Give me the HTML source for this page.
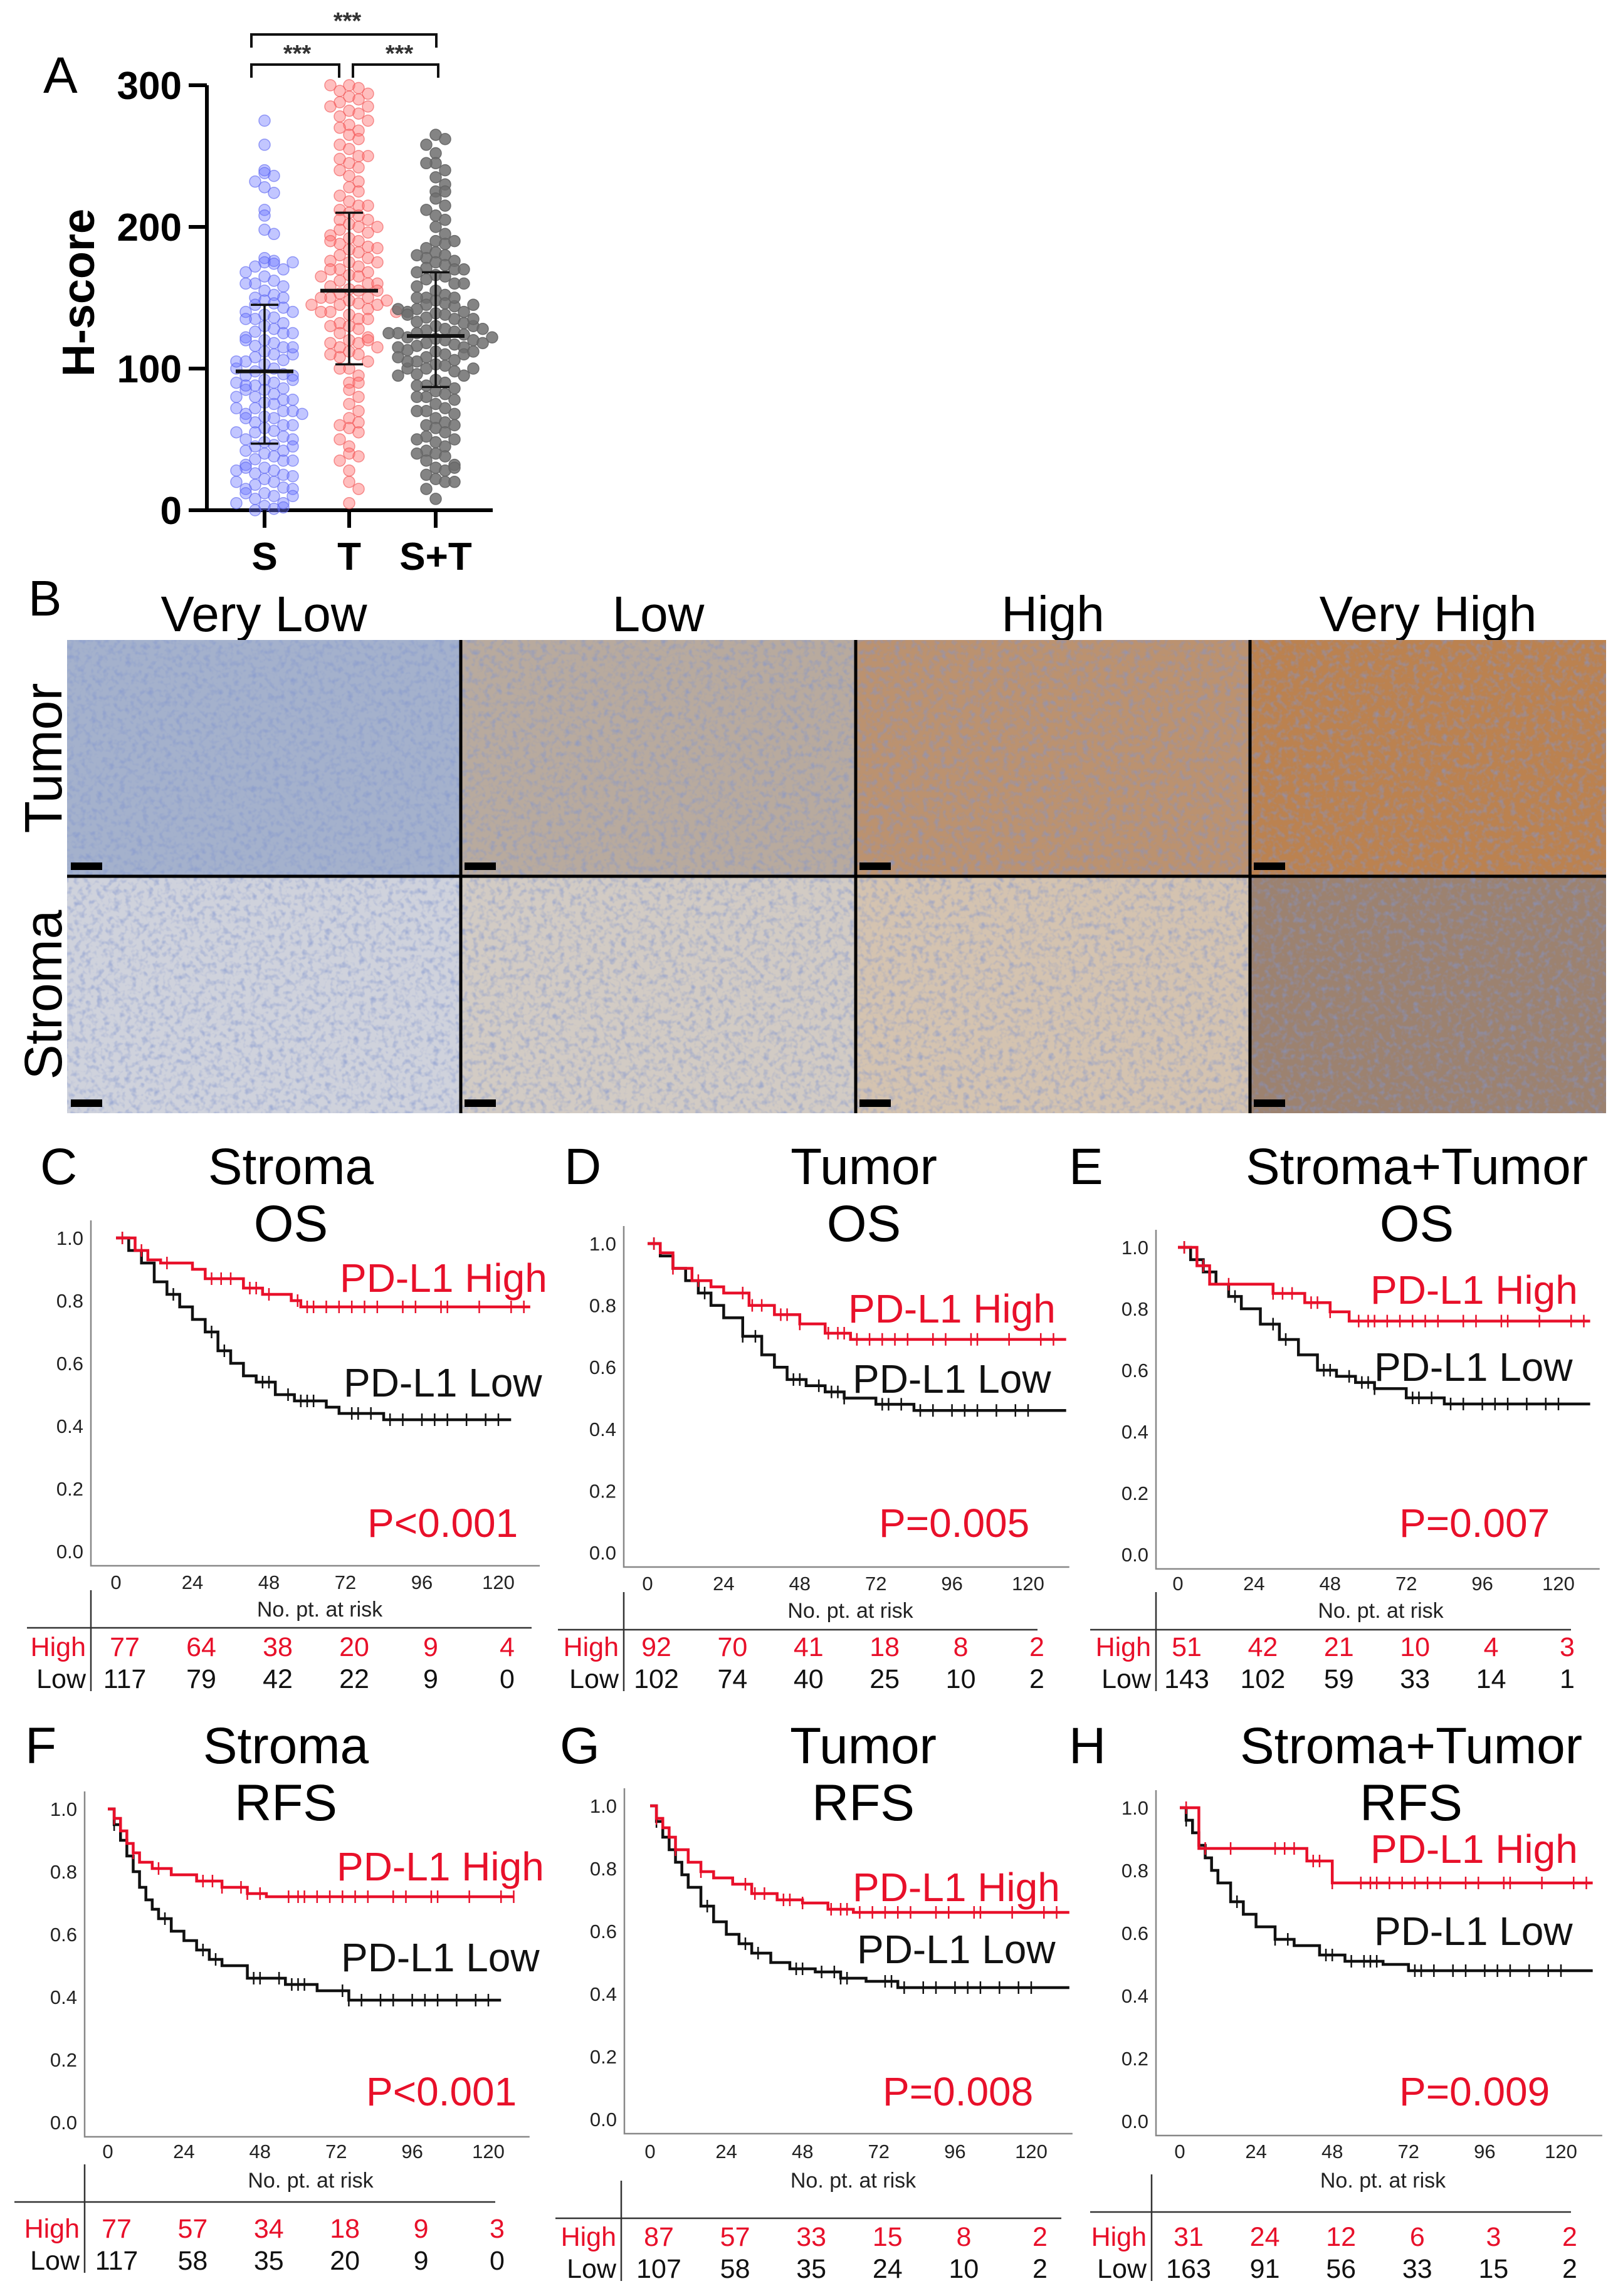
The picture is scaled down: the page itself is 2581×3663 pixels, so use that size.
<!DOCTYPE html>
<html><head><meta charset="utf-8"><style>
html,body{margin:0;padding:0;background:#fff;}
svg{display:block;font-family:"Liberation Sans",Arial,sans-serif;}
</style></head><body>
<svg id="fig" xmlns="http://www.w3.org/2000/svg" width="2581" height="3663" viewBox="0 0 2581 3663">
<defs>
<filter id="tex" x="0" y="0" width="100%" height="100%">
<feTurbulence type="fractalNoise" baseFrequency="0.11" numOctaves="2" seed="3"/>
<feColorMatrix type="matrix" values="0 0 0 0 0.22  0 0 0 0 0.30  0 0 0 0 0.62  0 0 0 -2.4 1.3"/>
</filter>
</defs>
<g id="panelA"></g>
<g id="panelB"></g>
<g id="km"></g>
</svg>
<script>
// ---------- Panel A data ----------
const groupLabels = ["S","T","S+T"];
const sValues = [275,258,240,238,236,232,228,224,212,208,198,195,178,176,175,174,172,170,168,165,162,160,158,155,152,150,148,146,145,143,140,138,136,135,132,130,128,126,125,122,120,118,116,115,112,110,108,106,105,103,100,98,96,95,92,90,88,86,85,82,80,78,76,75,72,70,68,66,65,62,60,58,56,55,52,50,48,46,45,42,40,38,36,35,32,30,28,26,25,22,20,18,16,15,12,10,8,5,3,1,0,110,95,85,70,50,30,15,65,125,140,100,88,78,60,42,24,12,175,160,150,135,120,115,105,92,90,80,72,68,55,45,35,28,20,10,5,2];
const tValues = [300,298,296,294,292,290,288,285,282,280,278,275,272,268,265,262,258,255,250,248,245,242,240,236,232,228,225,222,218,215,212,210,208,205,202,200,198,196,194,192,190,188,186,184,182,180,178,176,175,172,170,168,166,165,162,160,158,156,155,153,150,148,146,145,142,140,138,135,132,130,128,125,122,120,118,115,112,110,108,105,100,95,90,85,80,75,70,65,62,58,55,50,45,40,38,35,28,20,15,5,160,150,145,170,140,190,205,120,110,300,285,270,250,215,200,185,175,165,155,150,148,145,140,135,130,118,115,100,90,60];
const stValues = [265,262,258,252,245,240,235,230,225,220,215,212,208,205,200,195,190,188,185,182,180,178,176,175,173,171,170,168,166,165,163,160,158,155,152,150,148,146,145,144,142,140,139,138,136,135,133,132,130,128,127,126,125,124,122,121,120,118,117,116,115,113,112,110,108,106,105,103,102,100,98,96,95,92,90,88,86,84,82,80,78,75,72,70,68,65,62,60,58,55,52,50,48,45,42,40,38,35,32,30,28,25,22,20,15,8,140,130,120,110,100,150,125,115,105,245,225,190,180,170,160,150,145,142,138,135,128,125,122,118,112,108,100,95,88,80,70,60,50,40,30,20];
const groupMeans = [98,155,123];
const groupLowSD = [47,103,87];
const groupHighSD = [145,210,168];
const hTicks = [0,100,200,300];

// ---------- KM data ----------
const riskTimes = [0,24,48,72,96,120];
const kmC_highT=[0,6,10,14,24,28,40,46,55,58,130], kmC_highS=[1,0.96,0.93,0.92,0.90,0.87,0.84,0.82,0.80,0.78,0.78];
const kmC_lowT=[0,4,8,12,16,20,24,28,32,36,40,44,50,56,66,70,84,124], kmC_lowS=[1,0.96,0.92,0.86,0.82,0.78,0.74,0.70,0.64,0.60,0.56,0.54,0.50,0.48,0.46,0.44,0.42,0.42];
const kmD_highT=[0,4,8,14,20,24,32,40,48,56,64,132], kmD_highS=[1,0.97,0.92,0.88,0.86,0.84,0.80,0.77,0.74,0.71,0.69,0.69];
const kmD_lowT=[0,4,8,12,16,20,24,30,36,40,44,50,56,62,72,84,132], kmD_lowS=[1,0.96,0.92,0.88,0.84,0.80,0.76,0.70,0.64,0.60,0.56,0.54,0.52,0.50,0.48,0.46,0.46];
const kmE_highT=[0,6,10,30,40,48,54,130], kmE_highS=[1,0.94,0.88,0.85,0.82,0.79,0.76,0.76];
const kmE_lowT=[0,4,8,12,16,20,26,32,38,44,50,56,62,72,84,130], kmE_lowS=[1,0.96,0.92,0.88,0.84,0.80,0.75,0.70,0.65,0.60,0.58,0.56,0.54,0.51,0.49,0.49];
const kmF_highT=[0,2,4,6,8,10,14,20,28,36,44,50,128], kmF_highS=[1,0.97,0.93,0.89,0.86,0.83,0.81,0.79,0.77,0.75,0.73,0.72,0.72];
const kmF_lowT=[0,2,4,6,8,10,12,14,16,20,24,28,32,36,44,56,66,76,124], kmF_lowS=[1,0.95,0.90,0.85,0.80,0.75,0.71,0.68,0.65,0.61,0.58,0.55,0.52,0.50,0.46,0.44,0.42,0.39,0.39];
const kmG_highT=[0,2,4,6,8,12,16,20,26,32,40,48,56,64,132], kmG_highS=[1,0.96,0.93,0.90,0.86,0.82,0.79,0.77,0.75,0.72,0.70,0.69,0.67,0.66,0.66];
const kmG_lowT=[0,2,4,6,8,10,12,16,20,24,28,32,38,44,52,60,68,78,132], kmG_lowS=[1,0.95,0.90,0.86,0.82,0.78,0.74,0.68,0.63,0.59,0.56,0.53,0.50,0.48,0.47,0.45,0.44,0.42,0.42];
const kmH_highT=[0,6,40,48,130], kmH_highS=[1,0.87,0.83,0.76,0.76];
const kmH_lowT=[0,2,4,6,8,10,12,16,20,24,30,36,44,52,64,72,130], kmH_lowS=[1,0.96,0.92,0.88,0.84,0.80,0.76,0.70,0.66,0.62,0.58,0.56,0.53,0.51,0.50,0.48,0.48];
const censorHigh=[2,8,16,30,33,36,42,44,48,57,60,62,66,70,74,78,82,90,94,102,104,114,124,128];
const censorLow=[2,18,30,34,46,48,54,58,60,62,74,76,80,86,90,96,100,104,110,116,120];
const riskC_high=[77,64,38,20,9,4], riskC_low=[117,79,42,22,9,0];
const riskD_high=[92,70,41,18,8,2], riskD_low=[102,74,40,25,10,2];
const riskE_high=[51,42,21,10,4,3], riskE_low=[143,102,59,33,14,1];
const riskF_high=[77,57,34,18,9,3], riskF_low=[117,58,35,20,9,0];
const riskG_high=[87,57,33,15,8,2], riskG_low=[107,58,35,24,10,2];
const riskH_high=[31,24,12,6,3,2], riskH_low=[163,91,56,33,15,2];
const survTicks=[0,0.2,0.4,0.6,0.8,1.0];

const NS="http://www.w3.org/2000/svg";
function mk(parent,tag,attrs,text){const e=document.createElementNS(NS,tag);for(const k in attrs)e.setAttribute(k,attrs[k]);if(text!==undefined)e.textContent=text;parent.appendChild(e);return e;}
const RED="#e8102a";

// ---------- Panel A ----------
(function(){
const g=document.getElementById('panelA');
const yA=v=>814-(v/300)*(814-136);
const xA=[422,557,695];
let t=mk(g,'text',{x:69,y:148,'font-size':82},'A');

t=mk(g,'text',{x:0,y:0,'font-size':72,'font-weight':'bold','text-anchor':'middle',transform:'translate(150,467) rotate(-90)'},'H-score');

const ax=mk(g,'path',{d:`M330 ${yA(300)} V814 H786`,stroke:'#000','stroke-width':6,fill:'none'});

hTicks.forEach(v=>{
 const tk=mk(g,'line',{x1:301,x2:330,y1:yA(v),y2:yA(v),stroke:'#000','stroke-width':6});
 
 const tl=mk(g,'text',{x:290,y:yA(v)+22,'font-size':62,'font-weight':'bold','text-anchor':'end'},String(v));
 
});
const groups=[sValues,tValues,stValues];
const fills=['rgba(110,120,255,0.42)','rgba(255,110,110,0.45)','rgba(110,110,110,0.85)'];
const strokes=['rgba(90,100,240,0.6)','rgba(240,80,80,0.6)','rgba(100,100,100,0.9)'];
groups.forEach((vals,gi)=>{
 const bins={};
 vals.forEach(v=>{
  const b=Math.round(v/9);
  bins[b]=(bins[b]||0)+1;
  const k=bins[b]-1;
  const off=(k===0?0:(k%2?1:-1)*Math.ceil(k/2))*15;
  const c=mk(g,'circle',{cx:xA[gi]+off,cy:yA(v),r:9,fill:fills[gi],stroke:strokes[gi],'stroke-width':1.5});
  
  
 });
 const mw=46;
 const m=mk(g,'line',{x1:xA[gi]-mw,x2:xA[gi]+mw,y1:yA(groupMeans[gi]),y2:yA(groupMeans[gi]),stroke:'#111','stroke-width':6});
 
 const e=mk(g,'path',{d:`M${xA[gi]} ${yA(groupLowSD[gi])} V${yA(groupHighSD[gi])} M${xA[gi]-22} ${yA(groupLowSD[gi])} h44 M${xA[gi]-22} ${yA(groupHighSD[gi])} h44`,stroke:'#111','stroke-width':3.5,fill:'none'});
 
 const tk=mk(g,'line',{x1:xA[gi],x2:xA[gi],y1:814,y2:842,stroke:'#000','stroke-width':6});
 
 const xl=mk(g,'text',{x:xA[gi],y:909,'font-size':62,'font-weight':'bold','text-anchor':'middle'},groupLabels[gi]);
 
});
const br=mk(g,'path',{d:'M401 76 V55 H696 V76 M401 124 V103 H541 V124 M563 124 V103 H699 V124',stroke:'#111','stroke-width':4,fill:'none'});

[[554,46],[474,98],[637,98]].forEach(p=>{
 const s=mk(g,'text',{x:p[0],y:p[1],'font-size':38,'font-weight':'bold','text-anchor':'middle',fill:'#333'},'***');
 
});
})();

// ---------- Panel B ----------
(function(){
const g=document.getElementById('panelB');
let t=mk(g,'text',{x:45,y:982,'font-size':80},'B');

const cols=[107,735,1365,1994,2562];
const rows=[1021,1398,1776];
const titles=['Very Low','Low','High','Very High'];
const colors=[['#a4b1cc','#b8aa9e','#bb9270','#bb8250'],['#cfd2dc','#d2cbc4','#d4c3b0','#9c8270']];
titles.forEach((tt,i)=>{
 const tx=mk(g,'text',{x:(cols[i]+cols[i+1])/2,y:1007,'font-size':80,'text-anchor':'middle'},tt);
 
});
['Tumor','Stroma'].forEach((rl,r)=>{
 const tx=mk(g,'text',{x:0,y:0,'font-size':84,'text-anchor':'middle',transform:`translate(98,${(rows[r]+rows[r+1])/2}) rotate(-90)`},rl);
 
 for(let c=0;c<4;c++){
  const im=mk(g,'rect',{x:cols[c],y:rows[r],width:cols[c+1]-cols[c],height:rows[r+1]-rows[r],fill:colors[r][c]});
  
  const tx2=mk(g,'rect',{x:cols[c],y:rows[r],width:cols[c+1]-cols[c],height:rows[r+1]-rows[r],filter:'url(#tex)',opacity:0.6});
  
  const sb=mk(g,'rect',{x:cols[c]+6,y:rows[r+1]-22,width:50,height:12,fill:'#000'});
  
 }
});
const dv=mk(g,'path',{d:`M${cols[1]} ${rows[0]} V${rows[2]} M${cols[2]} ${rows[0]} V${rows[2]} M${cols[3]} ${rows[0]} V${rows[2]} M${cols[0]} ${rows[1]} H${cols[4]}`,stroke:'#000','stroke-width':5});

})();

// ---------- KM panels ----------
const panels=[
 {id:'C',t1:'Stroma',t2:'OS',tx:464,lx:64,tb:1889,ax:145,x0:185,x120:795,y1:1975,y0:2475,tick:2535,risk:2579,hl:2597,hx0:43,hx1:848,vl:145,high:2627,low:2678,hiX:542,hiY:2061,loX:548,loY:2228,pX:586,pY:2452,p:'P<0.001',hT:kmC_highT,hS:kmC_highS,lT:kmC_lowT,lS:kmC_lowS,rh:riskC_high,rl:riskC_low},
 {id:'D',t1:'Tumor',t2:'OS',tx:1378,lx:900,tb:1889,ax:995,x0:1033,x120:1640,y1:1984,y0:2477,tick:2537,risk:2581,hl:2600,hx0:890,hx1:1655,vl:995,high:2627,low:2678,hiX:1353,hiY:2110,loX:1360,loY:2222,pX:1402,pY:2452,p:'P=0.005',hT:kmD_highT,hS:kmD_highS,lT:kmD_lowT,lS:kmD_lowS,rh:riskD_high,rl:riskD_low},
 {id:'E',t1:'Stroma+Tumor',t2:'OS',tx:2260,lx:1705,tb:1889,ax:1844,x0:1879,x120:2486,y1:1990,y0:2480,tick:2537,risk:2581,hl:2600,hx0:1739,hx1:2506,vl:1844,high:2627,low:2678,hiX:2186,hiY:2080,loX:2192,loY:2203,pX:2232,pY:2452,p:'P=0.007',hT:kmE_highT,hS:kmE_highS,lT:kmE_lowT,lS:kmE_lowS,rh:riskE_high,rl:riskE_low},
 {id:'F',t1:'Stroma',t2:'RFS',tx:456,lx:40,tb:2813,ax:135,x0:172,x120:779,y1:2886,y0:3386,tick:3443,risk:3490,hl:3513,hx0:23,hx1:790,vl:135,high:3555,low:3606,hiX:537,hiY:3000,loX:544,loY:3145,pX:584,pY:3359,p:'P<0.001',hT:kmF_highT,hS:kmF_highS,lT:kmF_lowT,lS:kmF_lowS,rh:riskF_high,rl:riskF_low},
 {id:'G',t1:'Tumor',t2:'RFS',tx:1377,lx:893,tb:2813,ax:996,x0:1037,x120:1645,y1:2881,y0:3381,tick:3443,risk:3490,hl:3539,hx0:886,hx1:1693,vl:991,high:3568,low:3619,hiX:1360,hiY:3033,loX:1367,loY:3132,pX:1408,pY:3359,p:'P=0.008',hT:kmG_highT,hS:kmG_highS,lT:kmG_lowT,lS:kmG_lowS,rh:riskG_high,rl:riskG_low},
 {id:'H',t1:'Stroma+Tumor',t2:'RFS',tx:2251,lx:1705,tb:2813,ax:1844,x0:1882,x120:2490,y1:2884,y0:3384,tick:3443,risk:3490,hl:3529,hx0:1739,hx1:2506,vl:1837,high:3568,low:3619,hiX:2186,hiY:2972,loX:2192,loY:3103,pX:2232,pY:3359,p:'P=0.009',hT:kmH_highT,hS:kmH_highS,lT:kmH_lowT,lS:kmH_lowS,rh:riskH_high,rl:riskH_low}
];
const kmRoot=document.getElementById('km');
panels.forEach(P=>{
 const g=mk(kmRoot,'g',{});
 
 
 const X=t=>P.x0+t/120*(P.x120-P.x0);
 const Y=s=>P.y0-s*(P.y0-P.y1);
 let e=mk(g,'text',{x:P.lx,y:P.tb,'font-size':82},P.id);
 
 e=mk(g,'text',{x:P.tx,y:P.tb,'font-size':82,'text-anchor':'middle'},P.t1);
 
 e=mk(g,'text',{x:P.tx,y:P.tb+91,'font-size':82,'text-anchor':'middle'},P.t2);
 
 e=mk(g,'path',{d:`M${P.ax} ${P.y1-28} V${P.y0+23} H${X(133)}`,stroke:'#888','stroke-width':2.5,fill:'none'});
 
 survTicks.forEach(s=>{
  const l=mk(g,'text',{x:P.ax-12,y:Y(s)+11,'font-size':31,'text-anchor':'end',fill:'#222'},s.toFixed(1));
  
 });
 riskTimes.forEach(t=>{
  const l=mk(g,'text',{x:X(t),y:P.tick,'font-size':31,'text-anchor':'middle',fill:'#222'},String(t));
  
 });
 e=mk(g,'text',{x:(P.x0+P.x120)/2+20,y:P.risk,'font-size':34,'text-anchor':'middle',fill:'#222'},'No. pt. at risk');
 
 e=mk(g,'path',{d:`M${P.hx0} ${P.hl} H${P.hx1} M${P.vl} ${P.hl-60} V${P.low+20}`,stroke:'#333','stroke-width':2.5,fill:'none'});
 
 e=mk(g,'text',{x:P.vl-8,y:P.high+15,'font-size':43,'text-anchor':'end',fill:RED},'High');
 
 e=mk(g,'text',{x:P.vl-8,y:P.low+15,'font-size':43,'text-anchor':'end',fill:'#111'},'Low');
 
 riskTimes.forEach((t,i)=>{
  let n=mk(g,'text',{x:X(t)+14,y:P.high+15,'font-size':43,'text-anchor':'middle',fill:RED},String(P.rh[i]));
  
  n=mk(g,'text',{x:X(t)+14,y:P.low+15,'font-size':43,'text-anchor':'middle',fill:'#111'},String(P.rl[i]));
  
 });
 function curve(T,S,cens,color,name){
  let d=`M${X(T[0])} ${Y(S[0])}`;
  for(let i=1;i<T.length;i++){d+=` H${X(T[i])} V${Y(S[i])}`;}
  const p=mk(g,'path',{d:d,stroke:color,'stroke-width':4.5,fill:'none'});
  
  
  const end=T[T.length-1];
  cens.filter(c=>c<=end).forEach(c=>{
   let s=S[0];for(let i=0;i<T.length;i++){if(T[i]<=c)s=S[i];}
   const m=mk(g,'line',{x1:X(c),x2:X(c),y1:Y(s)-10,y2:Y(s)+10,stroke:color,'stroke-width':2.5});
   
   
  });
 }
 curve(P.lT,P.lS,censorLow,'#111','km-curve-low');
 curve(P.hT,P.hS,censorHigh,RED,'km-curve-high');
 e=mk(g,'text',{x:P.hiX,y:P.hiY,'font-size':64,fill:RED},'PD-L1 High');
 
 e=mk(g,'text',{x:P.loX,y:P.loY,'font-size':64,fill:'#111'},'PD-L1 Low');
 
 e=mk(g,'text',{x:P.pX,y:P.pY,'font-size':64,fill:RED},P.p);
 
});
</script>
</body></html>
